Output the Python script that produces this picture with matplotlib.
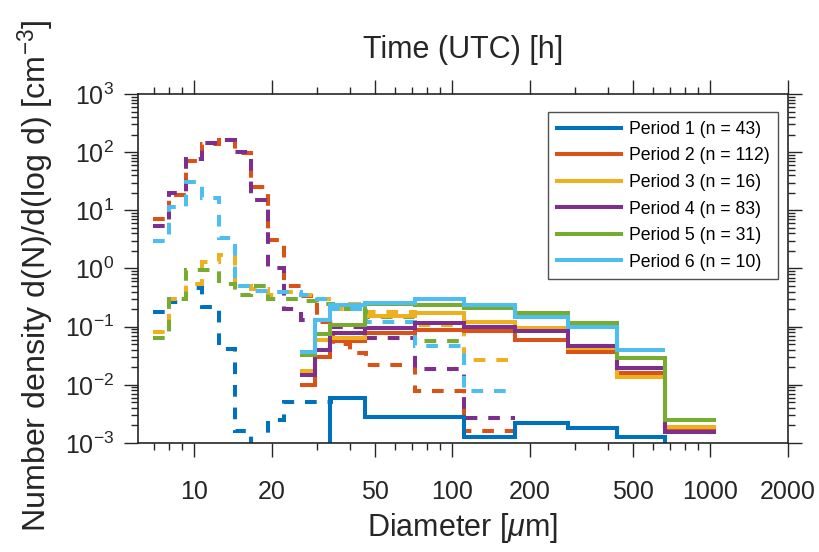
import numpy as np
import matplotlib
matplotlib.use("Agg")
from matplotlib import pyplot as plt
from matplotlib.ticker import FixedLocator, FixedFormatter, NullFormatter, LogLocator

# bin edges [um]
edges_dash = [6.92, 8.01, 9.27, 10.73, 12.42, 14.38, 16.65, 19.27, 22.31, 25.82,
              29.89, 34.60, 40.06, 46.37, 71.6, 111.0, 175.0]
edges_solid = [25.7, 29.4, 33.6, 45.9, 71.6, 111.0, 175.0, 282.0, 434.0, 670.0, 1050.0]

nan = np.nan
# dashed (small-size probe) values per period, d(N)/d(log d) [cm^-3]
dash_p1 = [0.177, 0.27, 0.47, 0.22, 0.041, 0.0016, 0.0005, 0.0025, 0.0051, 0.0051, 0.0051,
           nan, nan, nan, nan, nan]
dash_p2 = [7.0, 18.0, 70.0, 140.0, 165.0, 98.0, 25.5, 3.1, 0.5, 0.33, 0.12, 0.05, 0.035,
           0.022, 0.0077, 0.0016]
dash_p3 = [0.082, 0.3, 0.55, 1.3, 1.7, 0.5, 0.45, 0.35, 0.4, 0.35, 0.3, 0.2, 0.25,
           0.18, 0.107, 0.027]
dash_p4 = [5.4, 19.7, 75.0, 142.0, 162.0, 100.0, 15.1, 1.0, 0.2, 0.13, 0.13, 0.1, 0.1,
           0.063, 0.019, 0.0027]
dash_p5 = [0.063, 0.3, 0.95, 0.95, 0.55, 0.35, 0.5, 0.3, 0.3, 0.28, 0.25, 0.2, 0.2,
           0.145, 0.057, nan]
dash_p6 = [3.0, 11.6, 31.0, 16.2, 3.4, 0.5, 0.41, 0.40, 0.40, 0.35, 0.3, 0.2, 0.2,
           0.12, 0.047, 0.0079]

# solid (large-size probe) values per period
solid_p1 = [1e-6, 1e-6, 0.00605, 0.00285, 0.00285, 0.00127, 0.0022, 0.00183, 0.00127, 1e-6]
solid_p2 = [0.01, 0.0295, 0.0565, 0.0775, 0.0885, 0.083, 0.0598, 0.037, 0.0159, 0.0017]
solid_p3 = [0.017, 0.058, 0.064, 0.15, 0.17, 0.122, 0.0955, 0.0422, 0.0136, 0.0019]
solid_p4 = [0.015, 0.04, 0.0775, 0.0955, 0.117, 0.1, 0.0833, 0.0473, 0.0192, 0.00155]
solid_p5 = [0.033, 0.074, 0.107, 0.25, 0.24, 0.21, 0.17, 0.115, 0.0285, 0.0025]
solid_p6 = [0.037, 0.128, 0.235, 0.26, 0.295, 0.235, 0.148, 0.1, 0.04, nan]

labels = ["Period 1 (n = 43)", "Period 2 (n = 112)", "Period 3 (n = 16)",
          "Period 4 (n = 83)", "Period 5 (n = 31)", "Period 6 (n = 10)"]
colors = ["#0072BD", "#D95319", "#EDB120", "#7E2F8E", "#77AC30", "#4DBEEE"]

dash_all = [dash_p1, dash_p2, dash_p3, dash_p4, dash_p5, dash_p6]
solid_all = [solid_p1, solid_p2, solid_p3, solid_p4, solid_p5, solid_p6]

plt.rcParams['font.family'] = ['Liberation Sans', 'DejaVu Sans']
plt.rcParams['mathtext.fontset'] = 'custom'
plt.rcParams['mathtext.rm'] = 'Liberation Sans'
plt.rcParams['mathtext.it'] = 'Liberation Sans:italic'
plt.rcParams['mathtext.default'] = 'regular'
txt = '#262626'

fig = plt.figure(figsize=(8.19, 5.52), dpi=100)
ax = fig.add_axes([0.1685, 0.1975, 0.7935, 0.6322])

lw = 2.9
for i in range(6):
    ax.stairs(dash_all[i], edges_dash, baseline=None, color=colors[i], lw=lw,
              linestyle=(0, (2.9, 2.7)))
for i in range(6):
    ax.stairs(solid_all[i], edges_solid, baseline=None, color=colors[i], lw=lw,
              label=labels[i])

ax.set_xscale('log')
ax.set_yscale('log')
ax.set_xlim(6.05, 2000)
ax.set_ylim(1e-3, 1e3)

ax.xaxis.set_major_locator(FixedLocator([10, 20, 50, 100, 200, 500, 1000, 2000]))
ax.xaxis.set_minor_locator(FixedLocator([7, 8, 9, 30, 40, 60, 70, 80, 90,
                                         300, 400, 600, 700, 800, 900]))
ax.xaxis.set_major_formatter(FixedFormatter(
    ['10', '20', '50', '100', '200', '500', '1000', '2000']))
ax.xaxis.set_minor_formatter(NullFormatter())
ax.yaxis.set_major_locator(LogLocator(base=10, numticks=10))
ax.yaxis.set_minor_locator(LogLocator(base=10, subs=np.arange(2, 10), numticks=10))
ax.yaxis.set_minor_formatter(NullFormatter())

ax.tick_params(which='both', direction='out', top=True, right=True,
               colors=txt, labelcolor=txt, width=1.0)
ax.tick_params(which='major', length=10, labelsize=18)
ax.tick_params(axis='x', which='major', pad=17)
ax.tick_params(axis='y', which='major', pad=7)
ax.tick_params(which='minor', length=5)
for s in ax.spines.values():
    s.set_color(txt)
    s.set_linewidth(1.2)

ax.set_xlabel(r'Diameter [$\mathit{\mu}$m]', fontsize=22, color=txt, labelpad=5)
ax.set_ylabel(r'Number density d(N)/d(log d) [cm$^{-3}$]', fontsize=23.2, color=txt,
              labelpad=4)
ax.yaxis.set_label_coords(-0.125, 0.48)
ax.set_title('Time (UTC) [h]', fontsize=22, color=txt, pad=26)

leg = ax.legend(loc='upper right', fontsize=12.7, frameon=True, fancybox=False,
                edgecolor=txt, handlelength=3.6, handletextpad=0.45, borderpad=0.5,
                labelspacing=0.54, borderaxespad=0, bbox_to_anchor=(0.985, 0.948))
leg.get_frame().set_linewidth(1.0)

fig.savefig('out.png', dpi=100)
